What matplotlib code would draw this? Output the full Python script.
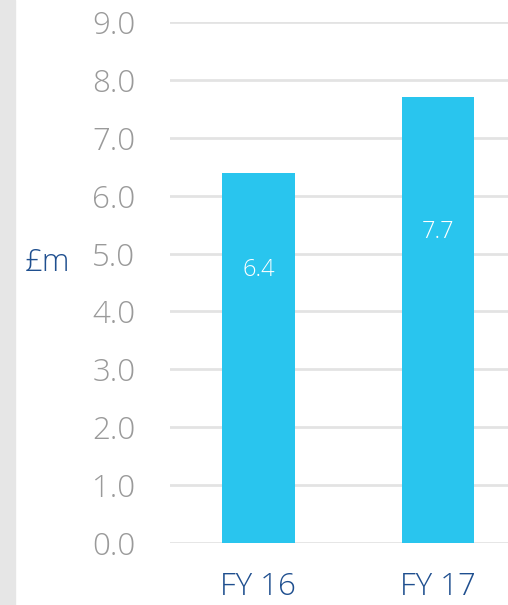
import matplotlib.pyplot as plt
from matplotlib.patches import Rectangle

categories = ["FY 16", "FY 17"]
values = [6.4, 7.7]
yticks = [0, 1, 2, 3, 4, 5, 6, 7, 8, 9]

plt.rcParams['font.family'] = ['Open Sans', 'DejaVu Sans']

fig = plt.figure(figsize=(5.08, 6.05), dpi=100)
fig.patches.append(Rectangle((0, 0), 15 / 508, 1, transform=fig.transFigure,
                             color="#e6e6e6", zorder=0))

ax = fig.add_axes([170 / 508, 62 / 605, 338 / 508, 521 / 605])
x = range(len(categories))
ax.bar(x, values, width=0.405, color="#29c5ee", zorder=3)

# value labels sit inside the bars
label_y = [4.72, 5.37]
for i, v in enumerate(values):
    ax.text(i, label_y[i], f"{v:.1f}", ha="center", va="center",
            color="white", fontsize=17, fontweight="light", zorder=4)

ax.set_xlim(-0.492, 1.389)
ax.set_ylim(0, 9)
ax.set_yticks(yticks)
ax.set_yticklabels([f"{t:.1f}" for t in yticks], color="#9a9a9a",
                   fontsize=22.5, fontweight="light")
ax.set_xticks(list(x))
ax.set_xticklabels(categories, color="#1f4f8f", fontsize=22.5, fontweight="light")
ax.tick_params(axis="y", length=0, pad=25)
ax.tick_params(axis="x", length=0, pad=20)
ax.grid(axis="y", color="#e3e3e3", linewidth=2, zorder=0)
for s in ax.spines.values():
    s.set_visible(False)

fig.text(48 / 508, 1 - 263 / 605, "£m", color="#1f4f8f", fontsize=22.5,
         fontweight="light", ha="center", va="center")

fig.savefig("out.png", dpi=100)
